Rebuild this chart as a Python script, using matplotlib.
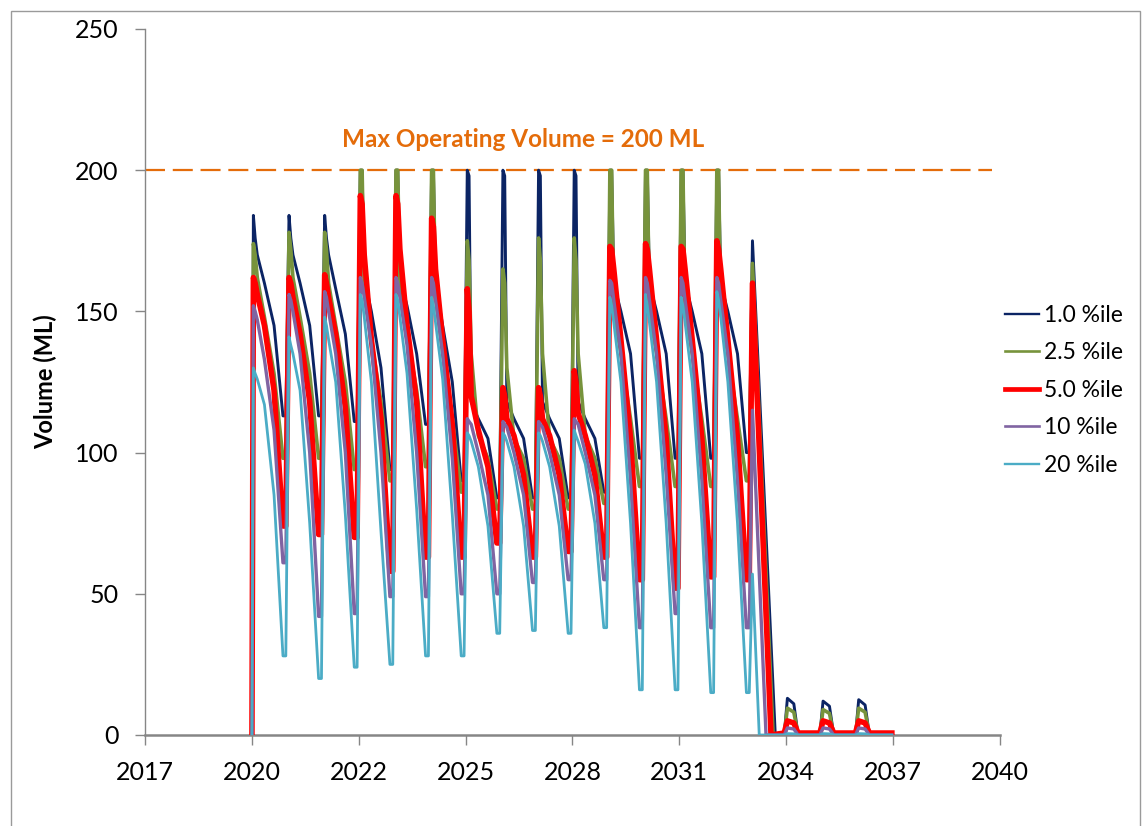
import matplotlib
matplotlib.use("Agg")
import matplotlib.pyplot as plt
from matplotlib.patches import Rectangle

plt.rcParams['font.family'] = ['Lato', 'DejaVu Sans']

# ------------------------------------------------------------
# Values (volume in ML)
# each year row: peak, hold, drop, ~0.35 yr, ~0.62 yr, trough
# ------------------------------------------------------------
years = list(range(2020, 2034))
phases = [0.04, 0.09, 0.15, 0.35, 0.62, 0.87]

p01 = [(184, 176, 170, 160, 145, 113), (184, 176, 170, 160, 145, 113),
       (184, 176, 170, 158, 142, 111), (200, 200, 162, 150, 130, 94),
       (200, 200, 162, 152, 135, 110), (200, 200, 160, 145, 125, 90),
       (200, 198, 118, 112, 105, 84), (200, 198, 118, 112, 105, 84),
       (200, 198, 118, 112, 105, 84), (200, 198, 118, 112, 105, 86),
       (200, 200, 160, 150, 135, 98), (200, 200, 160, 150, 135, 98),
       (200, 200, 160, 150, 135, 98), (200, 200, 160, 150, 135, 100)]
p025 = [(174, 170, 162, 148, 128, 98), (178, 172, 162, 148, 128, 98),
        (178, 172, 160, 145, 125, 94), (200, 200, 160, 140, 118, 90),
        (200, 200, 160, 142, 122, 95), (200, 200, 155, 135, 112, 86),
        (175, 168, 135, 106, 98, 80), (165, 160, 130, 105, 98, 80),
        (176, 168, 135, 105, 98, 80), (176, 168, 135, 106, 98, 82),
        (200, 200, 150, 135, 112, 88), (200, 200, 150, 135, 112, 88),
        (200, 200, 150, 135, 112, 88), (200, 200, 150, 135, 112, 90)]
p05 = [(162, 160, 156, 145, 122, 74), (162, 160, 155, 142, 118, 71),
       (163, 160, 155, 142, 116, 70), (191, 188, 170, 140, 112, 58),
       (191, 188, 172, 145, 118, 63), (183, 180, 165, 140, 110, 63),
       (158, 150, 120, 108, 95, 68), (123, 120, 112, 106, 92, 63),
       (123, 120, 112, 106, 92, 65), (129, 125, 114, 106, 92, 63),
       (173, 172, 165, 140, 105, 55), (174, 172, 165, 140, 105, 52),
       (173, 172, 165, 140, 105, 56), (175, 172, 165, 140, 105, 55)]
p10 = [(152, 150, 147, 133, 108, 61), (156, 154, 150, 135, 100, 42),
       (157, 155, 150, 135, 100, 43), (162, 160, 155, 138, 100, 49),
       (162, 160, 155, 138, 100, 49), (162, 160, 154, 135, 98, 50),
       (112, 111, 110, 100, 85, 50), (111, 110, 109, 100, 85, 54),
       (111, 110, 109, 100, 85, 55), (112, 111, 110, 100, 85, 55),
       (161, 160, 154, 135, 90, 38), (162, 160, 154, 135, 92, 43),
       (162, 160, 154, 135, 90, 38), (162, 160, 154, 135, 90, 38)]
p20 = [(130, 128, 126, 117, 85, 28), (141, 138, 135, 122, 75, 20),
       (148, 145, 140, 125, 78, 24), (156, 154, 148, 125, 72, 25),
       (156, 154, 148, 128, 80, 28), (155, 152, 146, 126, 78, 28),
       (107, 106, 104, 95, 74, 36), (107, 106, 104, 95, 74, 37),
       (107, 106, 104, 95, 74, 36), (108, 106, 104, 96, 75, 38),
       (155, 152, 146, 125, 75, 16), (156, 152, 146, 125, 75, 16),
       (155, 152, 146, 125, 75, 15), (157, 154, 148, 125, 75, 15)]

# final year: peak at start of 2034 and the date the volume hits zero
tail_peak = [175, 167, 160, 115, 57]
tail_zero = [2034.68, 2034.62, 2034.56, 2034.42, 2034.23]

# small humps in 2035-2037
hump_years = [2035, 2036, 2037]
humps = [[13, 12, 12.5], [9.5, 9, 9.5], [5, 5, 5], [2.5, 2.5, 2.5], [0.5, 0.5, 0.5]]
base = [0, 0, 0.7, 0, 0]
end_date = 2037.95

labels = ['1.0 %ile', '2.5 %ile', '5.0 %ile', '10 %ile', '20 %ile']
colors = ['#0B2464', '#77933C', '#FF0000', '#8064A2', '#4BACC6']
widths = [2.1, 2.6, 4.0, 2.4, 2.0]
legend_widths = [1.7, 1.9, 3.4, 1.9, 1.7]

max_vol = 200
max_x = [2017.0, 2040.75]

# x axis: Excel date axis, major unit 1095 days from 1 Jan 2017
tick_step = 1095 / 365.25
tick_labels = ['2017', '2020', '2022', '2025', '2028', '2031', '2034', '2037', '2040']


def build(rows, peak, zero, hump, b):
    t, v = [2020.0], [0.0]
    for yr, row in zip(years, rows):
        for ph, val in zip(phases, row):
            t.append(yr + ph)
            v.append(val)
        t.append(yr + 0.95)
        v.append(row[-1])
    t += [2034.04, zero]
    v += [peak, 0.0]
    for yr, h in zip(hump_years, hump):
        t += [yr - 0.07, yr + 0.02, yr + 0.2, yr + 0.32]
        v += [b, h, h * 0.85, b]
    t.append(end_date)
    v.append(b)
    return t, v


fig = plt.figure(figsize=(11.44, 8.26), dpi=100)
ax = fig.add_axes([145 / 1144, 91 / 826, 855 / 1144, 706 / 826])

series = [p01, p025, p05, p10, p20]
handles = []
for i, rows in enumerate(series):
    t, v = build(rows, tail_peak[i], tail_zero[i], humps[i], base[i])
    ax.plot(t, v, color=colors[i], lw=widths[i], zorder=3 + i)
    handles.append(plt.Line2D([], [], color=colors[i], lw=legend_widths[i], label=labels[i]))

ax.plot(max_x, [max_vol, max_vol], color='#E46C0A', lw=1.6, dashes=(9, 3.5), zorder=2)
ax.text(2027.6, 211, 'Max Operating Volume = 200 ML', color='#E46C0A',
        fontsize=17.5, fontweight='bold', ha='center', va='center')

ax.set_xlim(2017, 2017 + 8 * tick_step)
ax.set_ylim(0, 250)
ax.set_xticks([2017 + k * tick_step for k in range(9)])
ax.set_xticklabels(tick_labels)
ax.set_yticks(range(0, 251, 50))

for s in ['top', 'right']:
    ax.spines[s].set_visible(False)
ax.spines['left'].set_color('#868686')
ax.spines['bottom'].set_color('#868686')
ax.spines['left'].set_linewidth(1.0)
ax.spines['bottom'].set_linewidth(1.8)
ax.tick_params(axis='both', colors='#868686', labelcolor='black', labelsize=18,
               length=7, width=1.0, pad=12)

ax.set_ylabel('Volume (ML)', fontsize=17, fontweight='bold', labelpad=13)

ax.legend(handles=handles, loc='upper left', bbox_to_anchor=(984 / 1144, 1 - 284 / 826),
          bbox_transform=fig.transFigure, frameon=False, fontsize=16.5,
          handlelength=1.5, handletextpad=0.2, labelspacing=0.72)

# chart area border
fig.patches.append(Rectangle((11 / 1144, -0.02), 1129 / 1144, 1.0 - 11 / 826 + 0.02,
                             transform=fig.transFigure, fill=False,
                             edgecolor='#9A9A9A', lw=1.0))

fig.savefig('out.png', dpi=100)
